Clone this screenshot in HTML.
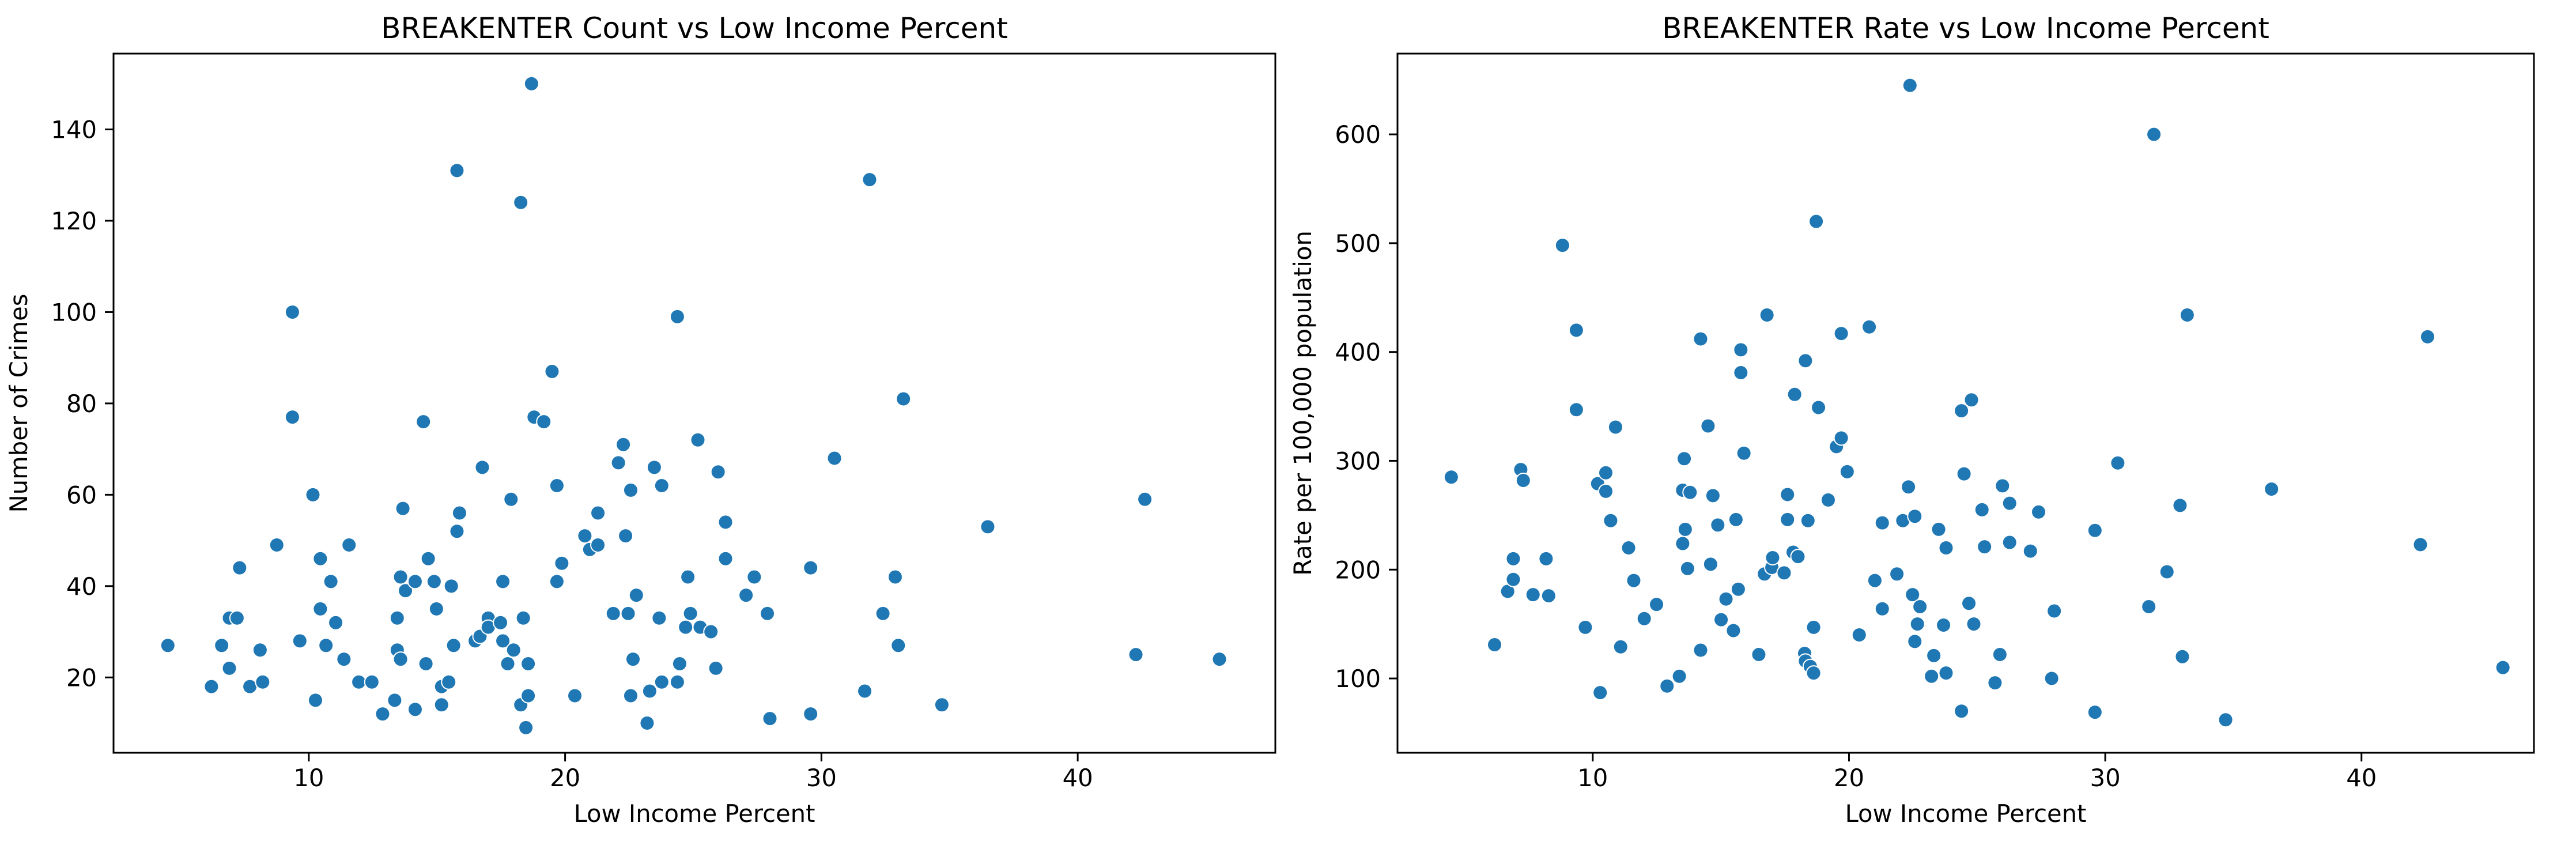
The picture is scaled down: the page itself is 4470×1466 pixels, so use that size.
<!DOCTYPE html>
<html><head><meta charset="utf-8">
<style>
html,body{margin:0;padding:0;background:#fff;}
svg{display:block;}
text{font-family:"DejaVu Sans","Liberation Sans",sans-serif;fill:#000;}
</style></head>
<body>
<svg id="fig" width="4470" height="1466" viewBox="0 0 4470 1466" xmlns="http://www.w3.org/2000/svg"></svg>
<script>
// ---- data ----
const countX = [4.5,6.2,6.6,6.9,6.9,7.2,7.3,7.7,8.1,8.2,8.75,9.36,9.36,9.65,10.16,10.26,10.45,10.45,10.67,10.86,11.05,11.37,11.57,11.95,12.46,12.88,13.35,13.45,13.45,13.58,13.58,13.67,13.77,14.15,14.15,14.47,14.57,14.66,14.89,14.98,15.18,15.18,15.46,15.56,15.65,15.78,15.78,15.88,16.49,16.68,16.77,17.0,17.0,17.48,17.57,17.57,17.76,17.89,17.99,18.27,18.27,18.37,18.47,18.56,18.56,18.69,18.79,19.17,19.49,19.68,19.68,19.87,20.38,20.77,20.96,21.28,21.28,21.88,22.08,22.27,22.36,22.46,22.56,22.56,22.65,22.78,23.2,23.3,23.48,23.67,23.77,23.77,24.38,24.38,24.47,24.7,24.79,24.89,25.18,25.27,25.69,25.88,25.97,26.26,26.26,27.06,27.38,27.89,27.99,29.58,29.58,30.51,31.69,31.88,32.4,32.88,33.0,33.2,34.7,36.49,42.27,42.62,45.53];
const countY = [27,18,27,33,22,33,44,18,26,19,49,100,77,28,60,15,46,35,27,41,32,24,49,19,19,12,15,33,26,42,24,57,39,41,13,76,23,46,41,35,18,14,19,40,27,131,52,56,28,29,66,33,31,32,41,28,23,59,26,124,14,33,9,23,16,150,77,76,87,62,41,45,16,51,48,49,56,34,67,71,51,34,61,16,24,38,10,17,66,33,62,19,99,19,23,31,42,34,72,31,30,22,65,54,46,38,42,34,11,44,12,68,17,129,34,42,27,81,14,53,25,59,24];
const rateX = [4.48,6.17,6.68,6.9,6.9,7.19,7.29,7.67,8.18,8.28,8.82,9.36,9.36,9.71,10.19,10.29,10.51,10.51,10.7,10.89,11.09,11.4,11.6,12.01,12.49,12.9,13.38,13.51,13.51,13.57,13.61,13.7,13.8,14.21,14.21,14.5,14.6,14.69,14.88,15.01,15.2,15.49,15.59,15.68,15.78,15.78,15.9,16.48,16.7,16.8,16.99,17.02,17.47,17.6,17.6,17.82,17.88,18.01,18.27,18.3,18.3,18.4,18.49,18.62,18.62,18.72,18.81,19.19,19.51,19.7,19.7,19.93,20.4,20.79,21.01,21.3,21.3,21.87,22.1,22.32,22.38,22.48,22.57,22.57,22.67,22.77,23.22,23.31,23.5,23.69,23.79,23.79,24.39,24.39,24.49,24.68,24.78,24.87,25.19,25.29,25.7,25.89,25.99,26.27,26.27,27.08,27.4,27.91,28.01,29.6,29.6,30.49,31.7,31.9,32.41,32.92,33.01,33.2,34.7,36.49,42.3,42.58,45.52];
const rateY = [285,131,180,191,210,292,282,177,210,176,498,420,347,147,279,87,289,272,245,331,129,220,190,155,168,93,102,273,224,302,237,201,271,412,126,332,205,268,241,154,173,144,246,182,402,381,307,122,196,434,202,211,197,269,246,216,361,212,123,392,116,245,111,105,147,520,349,264,313,321,417,290,140,423,190,164,243,196,245,276,645,177,249,134,150,166,102,121,237,149,220,105,70,346,288,169,356,150,255,221,96,122,277,261,225,217,253,100,162,236,69,298,166,600,198,259,120,434,62,274,223,414,110];
const xTicks = [10,20,30,40];
const countTicks = [20,40,60,80,100,120,140];
const rateTicks = [100,200,300,400,500,600];

const NS = "http://www.w3.org/2000/svg";
const svg = document.getElementById('fig');
function mk(tag, attrs, parent){
  const e = document.createElementNS(NS, tag);
  for (const k in attrs) e.setAttribute(k, attrs[k]);
  (parent||svg).appendChild(e);
  return e;
}

function panel(key, left, right, top, bottom, xmin, xmax, ymin, ymax, xs, ys, yt, title, ylabel){
  const g = mk('g', {});
  
  
  const sx = v => left + (v - xmin) / (xmax - xmin) * (right - left);
  const sy = v => bottom - (v - ymin) / (ymax - ymin) * (bottom - top);

  // points
  const pts = mk('g', {}, g);
  
  
  for (let i = 0; i < xs.length; i++){
    const c = mk('ellipse', {cx: sx(xs[i]), cy: sy(ys[i]), rx: 12.5, ry: 12.5, fill: '#1f77b4', stroke: '#fff', 'stroke-width': 2}, pts);
    
    
  }

  // axes frame
  const fr = mk('rect', {x: left, y: top, width: right - left, height: bottom - top, fill: 'none', stroke: '#000', 'stroke-width': 3}, g);
  
  

  // x ticks
  xTicks.forEach(t => {
    const x = sx(t);
    mk('line', {x1: x, x2: x, y1: bottom, y2: bottom + 15, stroke: '#000', 'stroke-width': 3}, g);
    const tx = mk('text', {x: x, y: bottom + 58, 'text-anchor': 'middle', 'font-size': 41.7}, g);
    tx.textContent = t;
    
    
  });
  // y ticks
  yt.forEach(t => {
    const y = sy(t);
    mk('line', {x1: left - 15, x2: left, y1: y, y2: y, stroke: '#000', 'stroke-width': 3}, g);
    const tx = mk('text', {x: left - 29, y: y + 15, 'text-anchor': 'end', 'font-size': 41.7}, g);
    tx.textContent = t;
    
    
  });

  const ti = mk('text', {x: (left + right) / 2, y: 66, 'text-anchor': 'middle', 'font-size': 50}, g);
  ti.textContent = title;
  
  

  const xl = mk('text', {x: (left + right) / 2, y: 1426, 'text-anchor': 'middle', 'font-size': 41.7}, g);
  xl.textContent = 'Low Income Percent';
  
  

  const cy = (top + bottom) / 2;
  const yl = mk('text', {x: 0, y: 0, 'text-anchor': 'middle', 'font-size': 41.7, transform: `translate(${left - 150},${cy}) rotate(-90)`}, g);
  yl.textContent = ylabel;
  
  
}

// left: x 197..2213, y 93..1306 ; x=10 at 536, 44.47 px/unit
panel('count', 197, 2213, 93, 1306, 2.38, 47.71, 3.5, 156.6, countX, countY, countTicks,
      'BREAKENTER Count vs Low Income Percent', 'Number of Crimes');
panel('rate', 2425, 4397, 93, 1306, 2.38, 46.73, 31.7, 674.2, rateX, rateY, rateTicks,
      'BREAKENTER Rate vs Low Income Percent', 'Rate per 100,000 population');
</script>
</body></html>
